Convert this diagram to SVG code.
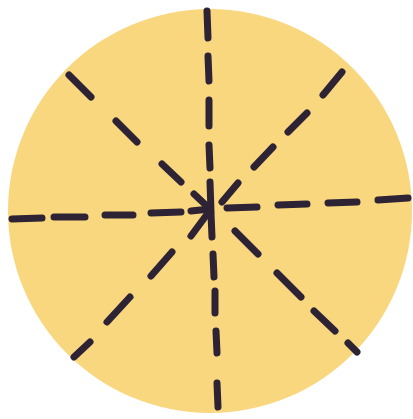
<svg xmlns="http://www.w3.org/2000/svg" width="413" height="419" viewBox="0 0 413 419">
  <style>
    .disc { fill: #f9d77e; }
    .dash { stroke: #2e2334; stroke-width: 7; stroke-linecap: round; fill: none; }
  </style>
  <rect width="413" height="419" fill="#ffffff"/>
  <circle class="disc" cx="210" cy="211" r="202"/>
  <g id="rays" class="dash">
    <!-- up -->
    <path d="M207 11 L208 38 M208 56 L209 81 M209 100 L209 126 M209 145 L210 168 M210 182 L211 212"/>
    <!-- down -->
    <path d="M211 214 L212 237 M213 254 L214 277 M215 291 L215 313 M216 331 L217 353 M217 383 L218 407"/>
    <!-- left -->
    <path d="M12 219 L42 218 M54 217 L85 217 M105 215 L133 215 M151 213 L181 212 M191 211 L210 209"/>
    <!-- right -->
    <path d="M227 208 L257 207 M278 205 L307 204 M328 203 L357 202 M378 200 L408 198"/>
    <!-- upper-left -->
    <path d="M69 75 L91 97 M116 121 L137 142 M162 164 L181 182 M194 194 L210 209"/>
    <!-- upper-right -->
    <path d="M342 72 L323 95 M307 113 L288 132 M273 147 L254 167 M238 183 L222 202"/>
    <!-- lower-left -->
    <path d="M208 213 L191 236 M172 252 L151 276 M130 297 L107 322 M90 342 L74 357"/>
    <!-- lower-right -->
    <path d="M235 231 L258 254 M277 273 L301 297 M314 311 L335 331 M348 343 L357 352"/>
  </g>
</svg>
